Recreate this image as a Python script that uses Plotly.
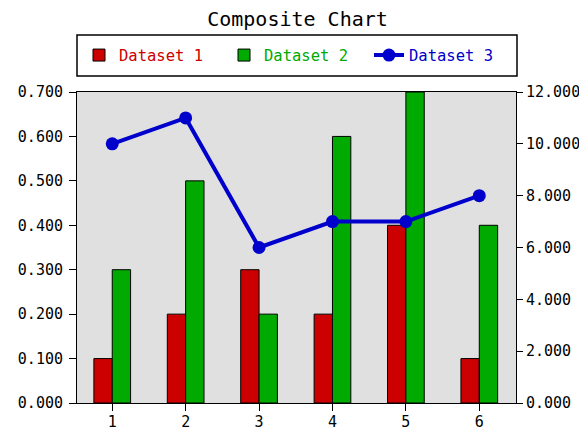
import plotly.graph_objects as go

categories = [1, 2, 3, 4, 5, 6]
dataset1 = [0.1, 0.2, 0.3, 0.2, 0.4, 0.1]
dataset2 = [0.3, 0.5, 0.2, 0.6, 0.7, 0.4]
dataset3 = [10, 11, 6, 7, 7, 8]

left_ticks = [0.0, 0.1, 0.2, 0.3, 0.4, 0.5, 0.6, 0.7]
right_ticks = [0, 2, 4, 6, 8, 10, 12]

RED = "#cc0000"
GREEN = "#00aa00"
BLUE = "#0000cc"
FONT = "DejaVu Sans Mono"

# page body adds an 8px margin, so the figure is 8px smaller than the window
W, H = 579, 422
L, T, R, B = 69, 84, 71, 27
PW, PH = W - L - R, H - T - B


def py(y_px):
    # figure pixel row -> paper coordinate
    return (H - B - y_px) / PH


fig = go.Figure()
fig.add_trace(go.Bar(
    x=categories, y=dataset1,
    name=f"<span style='color:{RED}'>Dataset 1</span>",
    marker=dict(color=RED, line=dict(color="black", width=1)),
))
fig.add_trace(go.Bar(
    x=categories, y=dataset2,
    name=f"<span style='color:{GREEN}'>Dataset 2</span>",
    marker=dict(color=GREEN, line=dict(color="black", width=1)),
))
fig.add_trace(go.Scatter(
    x=categories, y=dataset3, yaxis="y2",
    name=f"<span style='color:{BLUE}'>Dataset 3</span>",
    mode="lines+markers",
    line=dict(color=BLUE, width=4),
    marker=dict(color=BLUE, size=13),
))

# legend frame
fig.add_shape(type="rect", xref="paper", yref="paper",
              x0=0, x1=440 / PW, y0=py(68), y1=py(27),
              line=dict(color="black", width=1.5), fillcolor="white",
              layer="below")

fig.update_layout(
    width=W, height=H,
    margin=dict(l=L, r=R, t=T, b=B, autoexpand=False),
    paper_bgcolor="white",
    plot_bgcolor="#e0e0e0",
    font=dict(family=FONT, size=15, color="black"),
    title=dict(text="Composite Chart", x=0.5, xanchor="center",
               y=1 - 11 / H, yanchor="middle",
               font=dict(family=FONT, size=20, color="black")),
    barmode="group", bargap=0.5, bargroupgap=0,
    showlegend=True,
    legend=dict(orientation="h", x=0.5, xanchor="center",
                y=py(47.5), yanchor="middle",
                borderwidth=0, bgcolor="rgba(0,0,0,0)",
                entrywidth=100, traceorder="normal",
                font=dict(family=FONT, size=15.5)),
    xaxis=dict(range=[0.52, 6.5], tickvals=categories, showgrid=False,
               zeroline=False, showline=True, linecolor="black", linewidth=1,
               mirror=True, ticks="outside", ticklen=7, tickcolor="black",
               ticklabelstandoff=-2, automargin=False),
    yaxis=dict(range=[0, 0.7], tickvals=left_ticks, tickformat=".3f",
               showgrid=False, zeroline=False, showline=True,
               linecolor="black", linewidth=1, mirror=True,
               ticks="outside", ticklen=7, tickcolor="black",
               ticklabelstandoff=3, automargin=False),
    yaxis2=dict(range=[0, 12], tickvals=right_ticks, tickformat=".3f",
                overlaying="y", side="right", showgrid=False, zeroline=False,
                showline=True, linecolor="black", linewidth=1,
                ticks="outside", ticklen=6, tickcolor="black",
                ticklabelstandoff=0, automargin=False),
)

fig.write_html("out.html")
